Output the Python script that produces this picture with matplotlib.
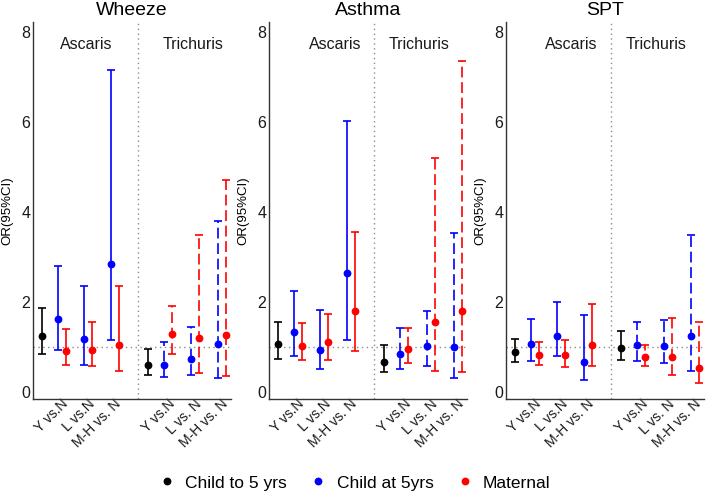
import matplotlib.pyplot as plt
from matplotlib.lines import Line2D
import numpy as np

plt.rcParams['font.family'] = ['Liberation Sans', 'DejaVu Sans']

outcomes = ['Wheeze', 'Asthma', 'SPT']
helminths = ['Ascaris', 'Trichuris']
xlabels = ['Y vs.N', 'L vs.N', 'M-H vs. N', 'Y vs.N', 'L vs. N', 'M-H vs. N']
series = ['Child to 5 yrs', 'Child at 5yrs', 'Maternal']

# rows: OR, lower, upper
# child to 5 yrs: only Y vs N (Ascaris, Trichuris)
wheeze_c5 = [[1.24, 0.59], [0.83, 0.37], [1.87, 0.96]]
asthma_c5 = [[1.07, 0.67], [0.74, 0.44], [1.56, 1.04]]
spt_c5 = [[0.89, 0.98], [0.66, 0.70], [1.18, 1.35]]
# child at 5yrs / maternal: Ascaris Y, L, M-H, Trichuris Y, L, M-H
wheeze_child = [[1.62, 1.18, 2.85, 0.59, 0.73, 1.07],
                [0.94, 0.59, 1.15, 0.32, 0.37, 0.31],
                [2.80, 2.35, 7.16, 1.10, 1.44, 3.79]]
wheeze_mat = [[0.91, 0.94, 1.04, 1.28, 1.20, 1.26],
              [0.60, 0.57, 0.47, 0.84, 0.41, 0.35],
              [1.40, 1.56, 2.35, 1.91, 3.48, 4.70]]
asthma_child = [[1.33, 0.94, 2.63, 0.84, 1.02, 1.00],
                [0.80, 0.50, 1.15, 0.50, 0.58, 0.31],
                [2.24, 1.82, 6.03, 1.42, 1.80, 3.52]]
asthma_mat = [[1.02, 1.11, 1.79, 0.96, 1.55, 1.80],
              [0.70, 0.70, 0.91, 0.65, 0.47, 0.45],
              [1.52, 1.74, 3.56, 1.42, 5.19, 7.36]]
spt_child = [[1.07, 1.25, 0.67, 1.03, 1.02, 1.24],
             [0.69, 0.79, 0.26, 0.68, 0.64, 0.46],
             [1.62, 1.99, 1.71, 1.55, 1.60, 3.48]]
spt_mat = [[0.81, 0.81, 1.05, 0.78, 0.77, 0.54],
           [0.59, 0.56, 0.58, 0.58, 0.38, 0.20],
           [1.10, 1.16, 1.96, 1.05, 1.65, 1.56]]

c5_data = [wheeze_c5, asthma_c5, spt_c5]
child_data = [wheeze_child, asthma_child, spt_child]
mat_data = [wheeze_mat, asthma_mat, spt_mat]
colors = ['black', '#0000ff', '#ff0000']

cat_x = np.array([1, 2, 3, 5, 6, 7])
label_x = [[2.08, 6.07], [2.57, 5.69], [2.52, 5.69]]
lefts = [33, 269, 506]
W, H = 709, 496

fig = plt.figure(figsize=(W / 100, H / 100), dpi=100)

def ebar(ax, x, d, col, dashed=False):
    d = np.array(d)
    r = ax.errorbar(x, d[0], yerr=[d[0] - d[1], d[2] - d[0]], fmt='o', color=col,
                    ms=4.6, capsize=2.8, elinewidth=1.2, capthick=1.2, zorder=3)
    if dashed:
        r[2][0].set_linestyle((0, (6.5, 2.8)))

for i, name in enumerate(outcomes):
    ax = fig.add_axes([lefts[i] / W, 97 / H, 198 / W, 377 / H])
    ax.set_xlim(0.07, 7.5)
    ax.set_ylim(-0.16, 8.22)
    ax.axhline(1, color='#8c8c8c', ls=(0, (1, 2.5)), lw=1, zorder=1)
    ax.axvline(4, color='#8c8c8c', ls=(0, (1, 2.5)), lw=1, zorder=1)

    c5 = np.array(c5_data[i])
    ebar(ax, [1 - 0.6, 5 - 0.6], c5, colors[0])
    ch = np.array(child_data[i])
    ma = np.array(mat_data[i])
    ebar(ax, cat_x[:3], ch[:, :3], colors[1])
    ebar(ax, cat_x[3:], ch[:, 3:], colors[1], dashed=True)
    ebar(ax, cat_x[:3] + 0.3, ma[:, :3], colors[2])
    ebar(ax, cat_x[3:] + 0.3, ma[:, 3:], colors[2], dashed=True)

    for j, h in enumerate(helminths):
        ax.text(label_x[i][j], 7.73, h, ha='center', va='center', fontsize=11.5, color='#1a1a1a')

    ax.set_title(name, fontsize=14, pad=5)
    ax.set_yticks([0, 2, 4, 6, 8])
    ax.set_xticks(cat_x + 0.3)
    ax.set_xticklabels(xlabels, rotation=45, ha='right', va='center',
                       rotation_mode='anchor', fontsize=10)
    ax.tick_params(axis='both', length=0, labelcolor='#1a1a1a')
    ax.tick_params(axis='y', labelsize=11.5, pad=2)
    ax.tick_params(axis='x', pad=2)
    ax.set_ylabel('OR(95%CI)', fontsize=9.5)
    ax.yaxis.set_label_coords(-0.10, 0.5)
    for s in ['top', 'right']:
        ax.spines[s].set_visible(False)
    for s in ['left', 'bottom']:
        ax.spines[s].set_color('#333333')
        ax.spines[s].set_linewidth(1)

handles = [Line2D([], [], marker='o', ls='', color=c, ms=4.6) for c in colors]
fig.legend(handles, series, loc='center', bbox_to_anchor=(0.5, 1 - 483 / H), ncol=3,
           frameon=False, fontsize=12.5, handletextpad=0.55, columnspacing=1.3, handlelength=1)

fig.savefig('out.png', dpi=100)
